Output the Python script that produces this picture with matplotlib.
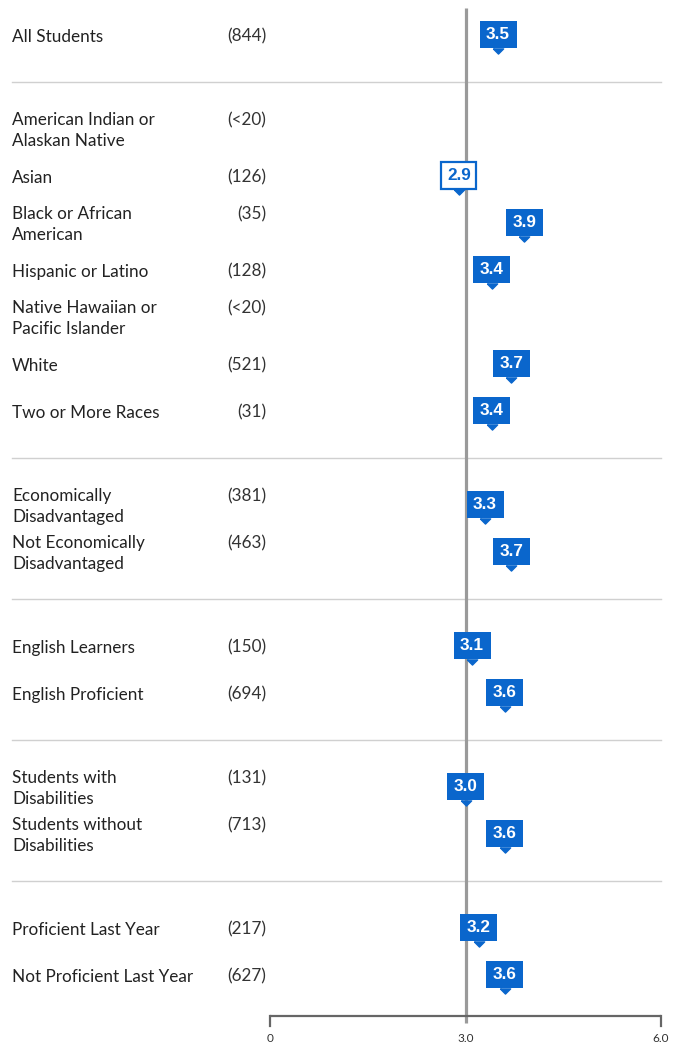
import matplotlib
matplotlib.use("Agg")
import matplotlib.pyplot as plt
import matplotlib.transforms as mtransforms

plt.rcParams['font.family'] = ['Lato', 'DejaVu Sans']

# groups of rows (label, count, score); None = no score shown
groups = [
    [("All Students", "(844)", 3.5)],
    [("American Indian or\nAlaskan Native", "(<20)", None),
     ("Asian", "(126)", 2.9),
     ("Black or African\nAmerican", "(35)", 3.9),
     ("Hispanic or Latino", "(128)", 3.4),
     ("Native Hawaiian or\nPacific Islander", "(<20)", None),
     ("White", "(521)", 3.7),
     ("Two or More Races", "(31)", 3.4)],
    [("Economically\nDisadvantaged", "(381)", 3.3),
     ("Not Economically\nDisadvantaged", "(463)", 3.7)],
    [("English Learners", "(150)", 3.1),
     ("English Proficient", "(694)", 3.6)],
    [("Students with\nDisabilities", "(131)", 3.0),
     ("Students without\nDisabilities", "(713)", 3.6)],
    [("Proficient Last Year", "(217)", 3.2),
     ("Not Proficient Last Year", "(627)", 3.6)],
]
reference = 3.0
x_ticks = [0, 3.0, 6.0]
x_tick_labels = ["0", "3.0", "6.0"]
below_ref = ["Asian"]  # drawn as outlined box

BLUE = "#0a66cc"
W, H = 683, 1044
fig = plt.figure(figsize=(W / 100, H / 100), dpi=100)
# axes: x 0..6 between px 270 and 661; y in row slots, 47 px per slot
ax = fig.add_axes([270 / W, 0, (661 - 270) / W, 1])
ax.set_xlim(0, 6)
ax.set_ylim((H - 35) / 47, -35 / 47)
ax.axis('off')

def off(dx, dy):
    return mtransforms.offset_copy(ax.transData, fig=fig, x=dx, y=dy, units='dots')

blend = mtransforms.blended_transform_factory(fig.transFigure, ax.transData)
def blend_off(dy):
    return mtransforms.offset_copy(blend, fig=fig, x=0, y=dy, units='dots')

slot = 0
seps = []
rows = []
for gi, g in enumerate(groups):
    if gi > 0:
        seps.append(slot)
        slot += 1
    for r in g:
        rows.append((slot,) + r)
        slot += 1

# reference line
ytop = -27 / 47
ybot = (1023 - 35) / 47
ax.plot([reference, reference], [ytop, ybot], color="#9a9a9a", lw=2.3,
        zorder=1, solid_capstyle='butt', clip_on=False)

# separators
for s in seps:
    ax.plot([12 / W, 661 / W], [s, s], transform=blend, color="#d0d0d0",
            lw=1, zorder=0, clip_on=False)

tri = [(-1, 0.5), (1, 0.5), (0, -0.5), (-1, 0.5)]
for s, label, count, val in rows:
    nlines = label.count("\n") + 1
    ax.text(12 / W, s, label, transform=blend_off(-1.5), ha='left', va='center',
            fontsize=12.3, color="#222222", linespacing=1.36)
    cy = 10 if nlines > 1 else 0
    ax.text(266 / W, s, count, transform=blend_off(cy - 1.5), ha='right',
            va='center', fontsize=12.3, color="#333333")
    if val is None:
        continue
    outlined = label in below_ref
    ax.plot([val], [s], marker=tri, markersize=7.4, color=BLUE, lw=0,
            transform=off(0, -15.5), zorder=3, clip_on=False)
    if outlined:
        bbox = dict(boxstyle="square,pad=0.33", fc="white", ec=BLUE, lw=1.6)
        tc = BLUE
    else:
        bbox = dict(boxstyle="square,pad=0.38", fc=BLUE, ec=BLUE, lw=0)
        tc = "white"
    ax.text(val, s, f"{val:.1f}", transform=off(0, 0.5), ha='center',
            va='center', fontsize=12.3, fontweight='bold', color=tc,
            family=['Liberation Sans', 'DejaVu Sans'],
            bbox=bbox, zorder=4, clip_on=False)

# bottom axis
axis_y = (1016 - 35) / 47
tick_y = (1026 - 35) / 47
ax.plot([x_ticks[0], x_ticks[-1]], [axis_y, axis_y], color="#666666", lw=1.6,
        clip_on=False, zorder=2, solid_capstyle='butt')
for xt, lab in zip(x_ticks, x_tick_labels):
    if xt != reference:
        ax.plot([xt, xt], [axis_y, tick_y], color="#666666", lw=1.6,
                clip_on=False, zorder=2, solid_capstyle='projecting')
    ax.text(xt, (1038 - 35) / 47, lab, ha='center', va='center',
            fontsize=8.5, color="#333333", clip_on=False)

fig.savefig("out.png", dpi=100)
